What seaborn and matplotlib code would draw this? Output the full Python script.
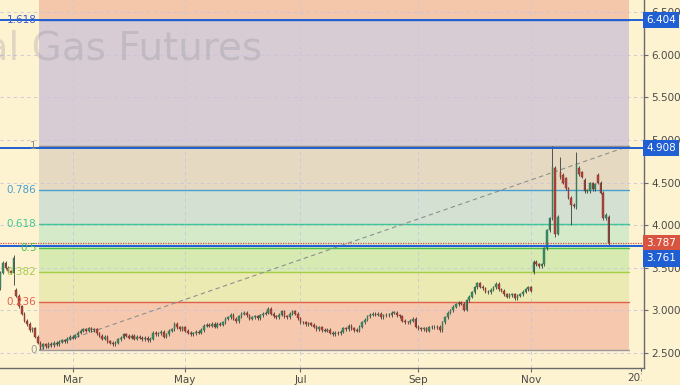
import numpy as np
import pandas as pd
import matplotlib
matplotlib.use("Agg")
import matplotlib.pyplot as plt
import matplotlib.transforms as mtransforms
import seaborn as sns

# ── Data (daily closes) ─────────────────────────────────────
closes = [
    3.44, 3.56, 3.50, 3.46, 3.44, 3.61, 3.17, 3.05, 2.96, 2.88,
    2.84, 2.77, 2.79, 2.69, 2.62, 2.57, 2.60, 2.58, 2.61, 2.59,
    2.62, 2.60, 2.63, 2.65, 2.64, 2.67, 2.69, 2.68, 2.71, 2.74,
    2.76, 2.78, 2.76, 2.79, 2.77, 2.78, 2.73, 2.70, 2.67, 2.69,
    2.64, 2.62, 2.60, 2.62, 2.66, 2.68, 2.72, 2.70, 2.68, 2.70,
    2.67, 2.69, 2.68, 2.66, 2.68, 2.65, 2.67, 2.74, 2.72, 2.73,
    2.75, 2.69, 2.72, 2.76, 2.78, 2.84, 2.80, 2.78, 2.80, 2.76,
    2.74, 2.72, 2.73, 2.75, 2.74, 2.77, 2.82, 2.83, 2.82, 2.84,
    2.81, 2.84, 2.83, 2.86, 2.90, 2.92, 2.95, 2.90, 2.87, 2.93,
    2.96, 2.97, 2.94, 2.90, 2.92, 2.93, 2.91, 2.94, 2.96, 2.97,
    3.02, 2.96, 2.93, 2.92, 2.95, 2.99, 2.93, 2.92, 2.96, 2.99,
    2.96, 2.91, 2.86, 2.86, 2.84, 2.85, 2.83, 2.81, 2.78, 2.80,
    2.77, 2.76, 2.77, 2.74, 2.72, 2.74, 2.73, 2.75, 2.79, 2.78,
    2.82, 2.79, 2.77, 2.76, 2.81, 2.86, 2.89, 2.93, 2.95, 2.96,
    2.95, 2.96, 2.92, 2.94, 2.95, 2.94, 2.97, 2.97, 2.94, 2.93,
    2.88, 2.86, 2.86, 2.88, 2.90, 2.81, 2.79, 2.78, 2.79, 2.76,
    2.80, 2.81, 2.80, 2.81, 2.77, 2.86, 2.92, 2.97, 3.00, 3.04,
    3.07, 3.09, 3.08, 3.01, 3.12, 3.16, 3.21, 3.27, 3.32, 3.28,
    3.26, 3.22, 3.21, 3.24, 3.27, 3.31, 3.25, 3.23, 3.19, 3.16,
    3.18, 3.19, 3.14, 3.17, 3.19, 3.22, 3.25, 3.27, 3.23, 3.57,
    3.54, 3.52, 3.54, 3.73, 3.94, 4.08, 4.68, 3.90, 4.10, 4.56,
    4.50, 4.43, 4.32, 4.24, 4.22, 4.72, 4.60, 4.57, 4.40, 4.40,
    4.49, 4.42, 4.48, 4.50, 4.38, 4.08, 4.12, 3.787,
]
first_open = 3.26
gap_opens = {6: 3.24, 199: 3.45, 207: 4.67, 209: 4.62, 210: 4.59, 211: 4.55,
             215: 4.21, 216: 4.67, 217: 4.62, 218: 4.53, 223: 4.59, 227: 4.10}
wick_highs = {5: 3.65, 206: 4.93, 209: 4.80, 215: 4.86}
wick_lows = {5: 3.30, 207: 3.86, 213: 4.00}

holidays = ["2018-02-19", "2018-03-30", "2018-05-28", "2018-07-04",
            "2018-09-03", "2018-11-22", "2018-12-25", "2019-01-01"]
month_ticks = ["2018-03-01", "2018-05-01", "2018-07-02", "2018-09-04", "2018-11-01"]
month_labels = ["Mar", "May", "Jul", "Sep", "Nov"]
year_tick, year_label = "2019-01-02", "2019"

fib_low, fib_high = 2.535, 4.928
fib_levels = [0, 0.236, 0.382, 0.5, 0.618, 0.786, 1, 1.618]
fib_names = ["0", "0.236", "0.382", "0.5", "0.618", "0.786", "1", "1.618"]
fib_line_colors = ["#9a9a9a", "#e0604e", "#a6cc48", "#4cbf45", "#3fc696",
                   "#4a9fd2", "#8d8d8d", "#3f5fcf"]
fib_fill_colors = ["#f6c9ae", "#ebeab2", "#d7eab2", "#d4eac9", "#d4e1d2",
                   "#e5dac1", "#d7ccd3", "#f5c7aa"]

price_marks = [6.404, 4.908, 3.761]
last_close = 3.787
y_ticks = [2.5, 3.0, 3.5, 4.0, 4.5, 5.0, 5.5, 6.0, 6.5]

# ── Theme ──────────────────────────────────────────────────
BG = "#fef3d1"
UP = "#3b8c68"
DOWN = "#b4453b"
BLUE = "#1f5fd3"
RED = "#d95440"
TXT = "#4a4a4a"
GRID = "#c9c4dc"

sns.set_theme(style="ticks")
plt.rcParams["font.family"] = ["DejaVu Sans"]

dates = pd.bdate_range("2018-01-22", "2019-01-10", freq="C", holidays=holidays)
pos = {d: i for i, d in enumerate(dates)}

n = len(closes)
x = np.arange(n)
c = np.array(closes)
o = np.r_[first_open, c[:-1]]
for k, v in gap_opens.items():
    o[k] = v
wick_pad = 0.018
hi = np.maximum(o, c) + wick_pad
lo = np.minimum(o, c) - wick_pad
for k, v in wick_highs.items():
    hi[k] = v
for k, v in wick_lows.items():
    lo[k] = v
up = c >= o

fig = plt.figure(figsize=(6.8, 3.85), dpi=100, facecolor=BG)
ax = fig.add_axes([0, 17 / 385, 644 / 680, 368 / 385])
ax.set_facecolor(BG)

x_left, x_right = -0.09, 240.2
y_bot, y_top = 2.324, 6.641
ax.set_xlim(x_left, x_right)
ax.set_ylim(y_bot, y_top)

# Fibonacci zones
zx0, zx1 = 14.5, 234.6
fib_vals = [fib_low + f * (fib_high - fib_low) for f in fib_levels]
edges = fib_vals + [y_top]
for i in range(len(fib_vals)):
    ax.fill_between([zx0, zx1], edges[i], edges[i + 1], color=fib_fill_colors[i],
                    lw=0, zorder=0.2)
for val, name, col in zip(fib_vals, fib_names, fib_line_colors):
    ax.plot([zx0, zx1], [val, val], color=col, lw=1.0, zorder=1.5)
    ax.text(zx0 - 1.0, val, name, color=col, fontsize=7.5, ha="right", va="center",
            zorder=5)

# trend line of the fib tool
sns.lineplot(x=[zx0, zx1], y=[fib_low, fib_high], ax=ax, color="#8f8f8f",
             lw=0.8, linestyle=(0, (4, 3)), zorder=1.6)

# grid
ax.set_axisbelow(True)
ax.grid(True, color=GRID, lw=0.6, ls=(0, (4, 4)))

# candles
ax.vlines(x, lo, hi, color="#3c3c3c", lw=0.6, zorder=2.9)
body = np.maximum(np.abs(c - o), 0.008)
bottom = np.minimum(o, c)
ax.bar(x[up], body[up], bottom=bottom[up], width=0.62, color=UP,
       edgecolor="#2d6e50", linewidth=0.3, zorder=3)
ax.bar(x[~up], body[~up], bottom=bottom[~up], width=0.62, color=DOWN,
       edgecolor="#7e2c25", linewidth=0.3, zorder=3)

# horizontal price lines
for pm in price_marks:
    ax.axhline(pm, color=BLUE, lw=1.4, zorder=4)
ax.axhline(last_close, color="#e04848", lw=0.9, ls=(0, (1, 1)), zorder=4.1)

# axes styling
for s in ["top", "left"]:
    ax.spines[s].set_visible(False)
for s in ["bottom", "right"]:
    ax.spines[s].set_color("#6a6a6a")
    ax.spines[s].set_linewidth(1.0)
ax.yaxis.tick_right()
ax.set_yticks(y_ticks)
ax.set_yticklabels([f"{v:.3f}" for v in y_ticks])
ax.set_xticks([pos[pd.Timestamp(d)] for d in month_ticks])
ax.set_xticklabels(month_labels)
ax.tick_params(axis="both", colors="#6a6a6a", labelcolor=TXT, labelsize=7.5,
               length=3, width=0.8, direction="out", pad=2)

# clipped year label at the right end
yr = ax.text(pos[pd.Timestamp(year_tick)], y_bot, year_label, fontsize=7.5,
             color=TXT, ha="center", va="top",
             transform=mtransforms.offset_copy(ax.transData, fig=fig, y=-5, units="dots"),
             clip_on=True)
yr.set_clip_box(mtransforms.TransformedBbox(
    mtransforms.Bbox.from_extents(0, 0, 642 / 680, 1), fig.transFigure))
ax.plot([pos[pd.Timestamp(year_tick)]] * 2, [y_bot, y_bot - 0.04], color="#6a6a6a",
        lw=0.8, clip_on=False)

# price labels on the axis
trans = mtransforms.blended_transform_factory(ax.transAxes, ax.transData)
label_rows = [(6.404, "6.404", BLUE), (4.908, "4.908", BLUE),
              (3.79, "3.787", RED), (3.61, "3.761", BLUE)]
for yv, txt, col in label_rows:
    ax.text(1.004, yv, txt, transform=trans, fontsize=7.5, color="white",
            ha="left", va="center", clip_on=False, zorder=6,
            bbox=dict(boxstyle="square,pad=0.3", fc=col, ec="none"))

# watermark
fig.text(262 / 680, 1 - 59 / 385, "Natural Gas Futures", ha="right", va="baseline",
         fontsize=28, color="#8e8e96", alpha=0.28, zorder=0.5)

fig.savefig("out.png", dpi=100, facecolor=BG)
